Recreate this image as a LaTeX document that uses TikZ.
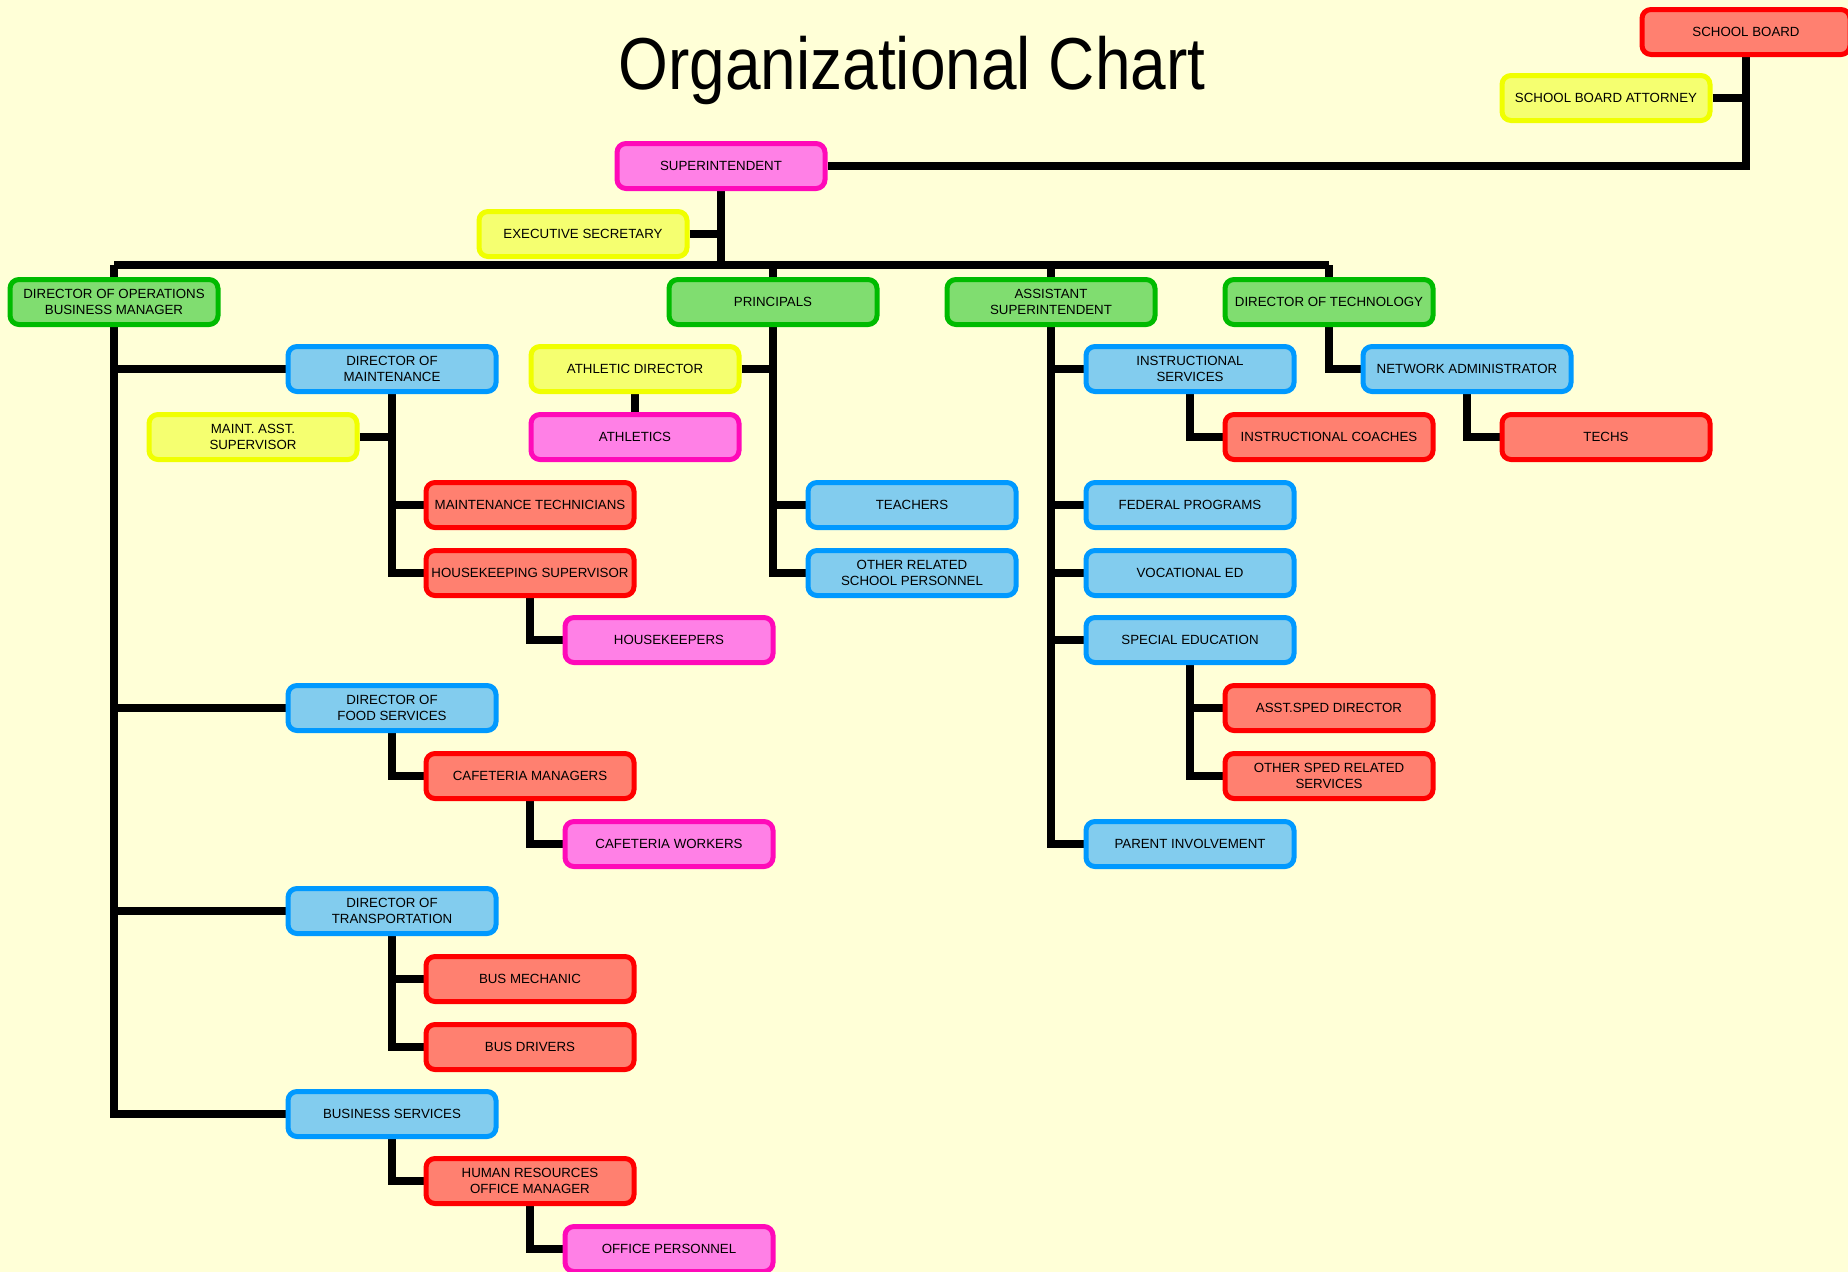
\documentclass[tikz,border=0pt]{standalone}
\usepackage{graphicx}
\usepackage{fontspec}
\setmainfont{Liberation Sans}
\usetikzlibrary{calc}
\pgfdeclarelayer{bg}
\pgfdeclarelayer{links}
\pgfsetlayers{bg,links,main}

\definecolor{paper}{HTML}{FFFFD7}
\definecolor{redline}{HTML}{FF0000}
\definecolor{redfill}{HTML}{FF8070}
\definecolor{yellowline}{HTML}{F0FF00}
\definecolor{yellowfill}{HTML}{F5FF70}
\definecolor{pinkline}{HTML}{FF0AB9}
\definecolor{pinkfill}{HTML}{FF80E6}
\definecolor{blueline}{HTML}{0099FF}
\definecolor{bluefill}{HTML}{82CCEE}
\definecolor{greenline}{HTML}{00BB00}
\definecolor{greenfill}{HTML}{80DD70}

\begin{document}
\begin{tikzpicture}[x=1pt, y=-1pt, line cap=rect, line join=miter,
	box/.style={rounded corners=9pt, line width=5pt, minimum width=208pt,
		minimum height=45pt, inner sep=0pt, align=center,
		font=\fontsize{13.3}{16}\selectfont},
	redbox/.style={box, draw=redline, fill=redfill},
	yellowbox/.style={box, draw=yellowline, fill=yellowfill},
	pinkbox/.style={box, draw=pinkline, fill=pinkfill},
	bluebox/.style={box, draw=blueline, fill=bluefill},
	greenbox/.style={box, draw=greenline, fill=greenfill},
	link/.style={line width=7.5pt}]

% ==== frame ====
\useasboundingbox (0,0) rectangle (1848,1272);
\begin{pgfonlayer}{bg}
	\fill[paper] (0,0) rectangle (1848,1272);
\end{pgfonlayer}

% ==== title ====
\node[anchor=base, font=\fontsize{64}{70}\selectfont] (title) at (912,89)
{\scalebox{1}[1.15]{Organizational Chart}};

% ==== board and superintendent ====
\node[redbox] (board) at (1746,32) {SCHOOL BOARD};
\node[yellowbox] (attorney) at (1606,98) {SCHOOL BOARD ATTORNEY};
\node[pinkbox] (supt) at (721,166) {SUPERINTENDENT};
\node[yellowbox] (exsec) at (583,234) {EXECUTIVE SECRETARY};
\coordinate (bus) at (0,265);

% ==== second level ====
\node[greenbox] (dirops) at (114,302) {DIRECTOR OF OPERATIONS\\BUSINESS MANAGER};
\node[greenbox] (princ) at (773,302) {PRINCIPALS};
\node[greenbox] (asst) at (1051,302) {ASSISTANT\\SUPERINTENDENT};
\node[greenbox] (dirtech) at (1329,302) {DIRECTOR OF TECHNOLOGY};

% ==== operations ====
\node[bluebox] (dirmaint) at (392,369) {DIRECTOR OF\\MAINTENANCE};
\node[yellowbox] (maintasst) at (253,437) {MAINT. ASST.\\SUPERVISOR};
\node[redbox] (mtech) at (530,505) {MAINTENANCE TECHNICIANS};
\node[redbox] (hksup) at (530,573) {HOUSEKEEPING SUPERVISOR};
\node[pinkbox] (hkeepers) at (669,640) {HOUSEKEEPERS};
\node[bluebox] (dirfood) at (392,708) {DIRECTOR OF\\FOOD SERVICES};
\node[redbox] (cafmgr) at (530,776) {CAFETERIA MANAGERS};
\node[pinkbox] (cafwork) at (669,844) {CAFETERIA WORKERS};
\node[bluebox] (dirtrans) at (392,911) {DIRECTOR OF\\TRANSPORTATION};
\node[redbox] (busmech) at (530,979) {BUS MECHANIC};
\node[redbox] (busdrv) at (530,1047) {BUS DRIVERS};
\node[bluebox] (bizsvc) at (392,1114) {BUSINESS SERVICES};
\node[redbox] (hrmgr) at (530,1181) {HUMAN RESOURCES\\OFFICE MANAGER};
\node[pinkbox] (officep) at (669,1249) {OFFICE PERSONNEL};

% ==== principals ====
\node[yellowbox] (athdir) at (635,369) {ATHLETIC DIRECTOR};
\node[pinkbox] (athletics) at (635,437) {ATHLETICS};
\node[bluebox] (teachers) at (912,505) {TEACHERS};
\node[bluebox] (otherrel) at (912,573) {OTHER RELATED\\SCHOOL PERSONNEL};

% ==== assistant superintendent ====
\node[bluebox] (instr) at (1190,369) {INSTRUCTIONAL\\SERVICES};
\node[redbox] (coaches) at (1329,437) {INSTRUCTIONAL COACHES};
\node[bluebox] (fedprog) at (1190,505) {FEDERAL PROGRAMS};
\node[bluebox] (voced) at (1190,573) {VOCATIONAL ED};
\node[bluebox] (sped) at (1190,640) {SPECIAL EDUCATION};
\node[redbox] (asstsped) at (1329,708) {ASST.SPED DIRECTOR};
\node[redbox] (spedother) at (1329,776) {OTHER SPED RELATED\\SERVICES};
\node[bluebox] (parent) at (1190,844) {PARENT INVOLVEMENT};

% ==== technology ====
\node[bluebox] (netadmin) at (1467,369) {NETWORK ADMINISTRATOR};
\node[redbox] (techs) at (1606,437) {TECHS};

% ==== connectors ====
\begin{pgfonlayer}{links}
	\draw[link] (board.south) |- (supt.east);
	\draw[link] (attorney.east) -- (attorney.east -| board.south);
	\draw[link] (supt.south) -- (supt.south |- bus);
	\draw[link] (exsec.east) -- (exsec.east -| supt.south);
	\draw[link] (dirops.north |- bus) -- (dirtech.north |- bus);
	\foreach \n in {dirops,princ,asst,dirtech}
		\draw[link] (\n.north) -- (\n.north |- bus);
	
	% operations
	\draw[link] (dirops.south) |- (bizsvc.west);
	\foreach \n in {dirmaint,dirfood,dirtrans}
		\draw[link] (\n.west) -- (\n.west -| dirops.south);
	\draw[link] (dirmaint.south) |- (hksup.west);
	\draw[link] (mtech.west) -- (mtech.west -| dirmaint.south);
	\draw[link] (maintasst.east) -- (maintasst.east -| dirmaint.south);
	\draw[link] (hksup.south) |- (hkeepers.west);
	\draw[link] (dirfood.south) |- (cafmgr.west);
	\draw[link] (cafmgr.south) |- (cafwork.west);
	\draw[link] (dirtrans.south) |- (busdrv.west);
	\draw[link] (busmech.west) -- (busmech.west -| dirtrans.south);
	\draw[link] (bizsvc.south) |- (hrmgr.west);
	\draw[link] (hrmgr.south) |- (officep.west);
	
	% principals
	\draw[link] (princ.south) |- (otherrel.west);
	\draw[link] (teachers.west) -- (teachers.west -| princ.south);
	\draw[link] (athdir.east) -- (athdir.east -| princ.south);
	\draw[link] (athdir.south) -- (athletics.north);
	
	% assistant superintendent
	\draw[link] (asst.south) |- (parent.west);
	\foreach \n in {instr,fedprog,voced,sped}
		\draw[link] (\n.west) -- (\n.west -| asst.south);
	\draw[link] (instr.south) |- (coaches.west);
	\draw[link] (sped.south) |- (spedother.west);
	\draw[link] (asstsped.west) -- (asstsped.west -| sped.south);
	
	% technology
	\draw[link] (dirtech.south) |- (netadmin.west);
	\draw[link] (netadmin.south) |- (techs.west);
\end{pgfonlayer}

\end{tikzpicture}
\end{document}
